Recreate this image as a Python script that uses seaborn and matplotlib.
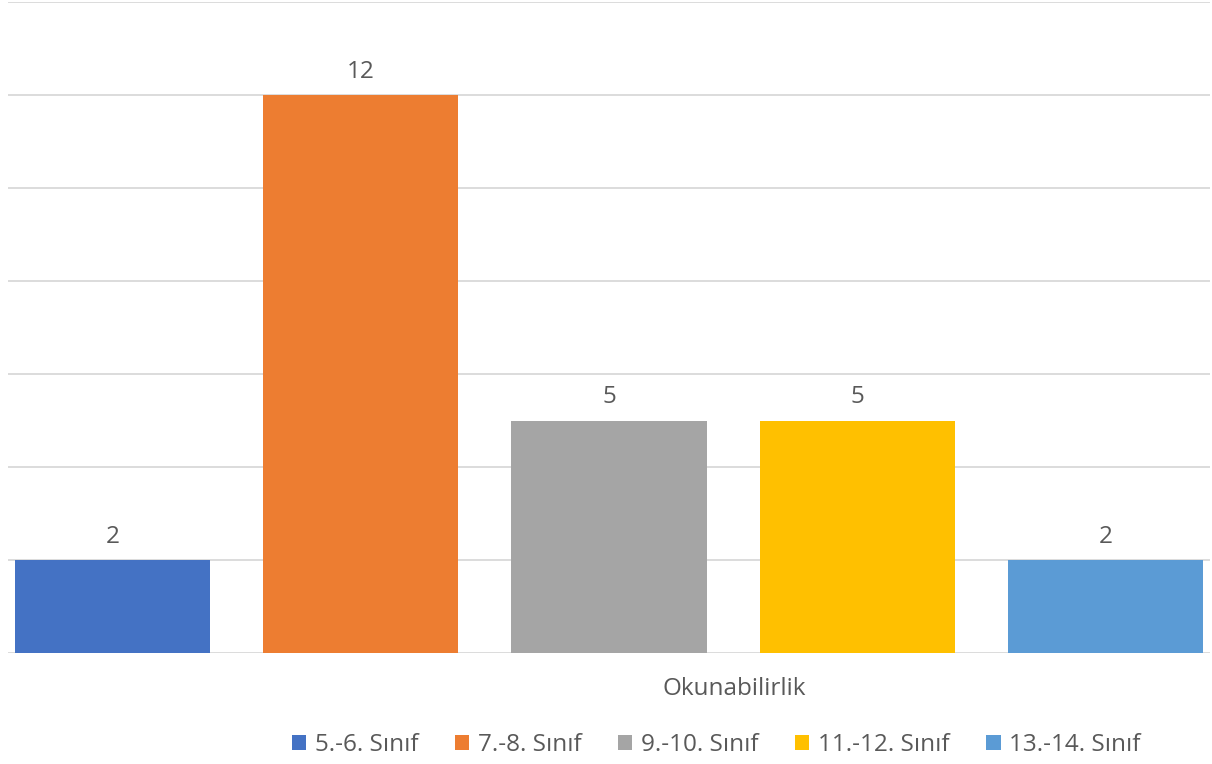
import matplotlib
matplotlib.use("Agg")
import matplotlib.pyplot as plt
import seaborn as sns
import pandas as pd

category = ["Okunabilirlik"]
series = ["5.-6. Sınıf", "7.-8. Sınıf", "9.-10. Sınıf", "11.-12. Sınıf", "13.-14. Sınıf"]
values = [2, 12, 5, 5, 2]
colors = ["#4472C4", "#ED7D31", "#A5A5A5", "#FFC000", "#5B9BD5"]

df = pd.DataFrame({"category": category * len(series), "series": series, "value": values})

sns.set_theme(style="white")
plt.rcParams['font.family'] = ['Open Sans', 'DejaVu Sans']
txt = "#595959"
fs = 17.5

fig = plt.figure(figsize=(12.12, 7.64), dpi=100)
ax = fig.add_axes([8/1212, 1 - 653/764, 1202/1212, 651/764])

sns.barplot(data=df, x="category", y="value", hue="series", hue_order=series,
            palette=colors, width=1.0, gap=0.214, ax=ax, legend=True,
            saturation=1, linewidth=0)

ax.set_xlim(-0.4843, 0.4843)
ax.set_ylim(0, 14)
ax.set_yticks(range(0, 15, 2))
ax.yaxis.grid(True, color="#d9d9d9", linewidth=1.3)
ax.set_axisbelow(True)
ax.tick_params(axis="y", left=False, labelleft=False)
ax.set_xticks([])
ax.set_xlabel("")
ax.set_ylabel("")
for s in ax.spines.values():
    s.set_visible(False)

for c in ax.containers:
    ax.bar_label(c, padding=8, fontsize=fs, color=txt)

ax.text(0.604, -0.055, category[0], transform=ax.transAxes, ha="center", va="center",
        fontsize=fs, color=txt)

handles, labels = ax.get_legend_handles_labels()
ax.legend_.remove()
fig.legend(handles, labels, loc="center", bbox_to_anchor=(716/1212, 1 - 745/764),
           ncol=5, frameon=False, fontsize=fs, labelcolor=txt,
           handlelength=0.6, handleheight=0.6, handletextpad=0.35, columnspacing=1.5)

fig.savefig("out.png", dpi=100)
